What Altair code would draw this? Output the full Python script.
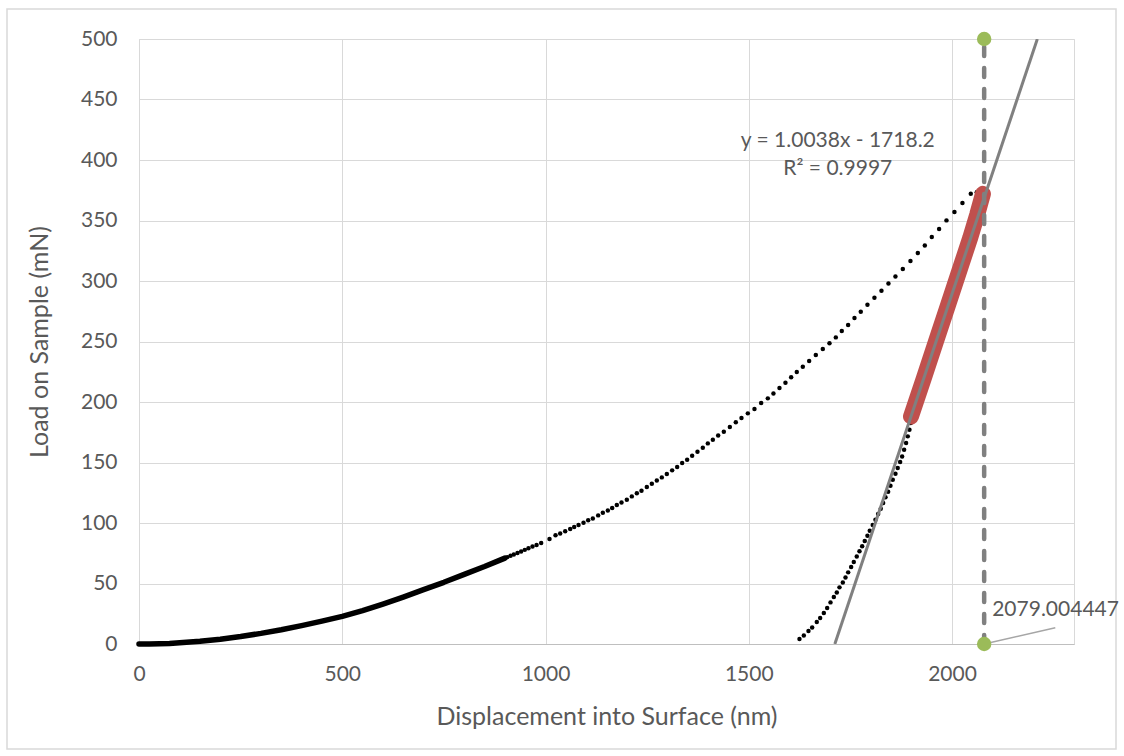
import altair as alt
import pandas as pd

# ---------------- data ----------------
# dense low part of the loading curve (dots merge into a thick line)
load_line_x = [0, 25, 50, 75, 100, 150, 200, 250, 300, 350, 400, 450, 500, 550, 600,
               650, 700, 750, 800, 850, 900]
load_line_y = [0, 0.05, 0.2, 0.5, 1.0, 2.2, 4.0, 6.2, 8.8, 11.8, 15.2, 18.9, 22.8, 27.6, 33.0,
               38.8, 45.0, 51.0, 57.5, 64.0, 71.0]

# separated dots of the loading curve
load_dot_x = [906, 914, 922, 931, 940, 949, 958, 968, 978,
              989.3, 1009.8, 1024.6, 1036.1, 1048.4, 1060.7, 1070.5, 1081.2, 1093.5, 1104.9,
              1116.4, 1129.5, 1141.0, 1153.3, 1164.0, 1175.4, 1186.9, 1200.0, 1212.3, 1224.6,
              1236.1, 1249.2, 1261.5, 1273.8, 1286.1, 1298.4, 1311.5, 1323.8, 1336.1, 1348.4,
              1360.7, 1373.8, 1386.9, 1399.2, 1411.6, 1424.7, 1438.6, 1453.4, 1468.1, 1482.0,
              1497.6, 1514.0, 1530.4, 1546.8, 1560.7, 1575.5, 1590.2, 1604.2, 1618.1, 1632.9,
              1648.5, 1664.9, 1682.1, 1698.5, 1714.1, 1728.8, 1744.4, 1760.0, 1775.5, 1791.9,
              1809.1, 1826.4, 1843.6, 1860.8, 1878.9, 1897.7, 1915.8, 1933.0, 1950.2, 1968.2,
              1986.3, 2005.9, 2025.6, 2046.1, 2060.8, 2072.0]
load_dot_y = [71.8, 72.9, 74.0, 75.2, 76.5, 77.8, 79.1, 80.5, 81.9,
              83.4, 86.8, 89.8, 91.4, 93.1, 95.0, 96.7, 98.3, 100.2, 102.2,
              103.8, 106.3, 108.5, 110.4, 112.4, 114.9, 117.0, 119.3, 122.0, 124.5,
              126.7, 129.7, 132.5, 135.2, 137.7, 140.5, 143.5, 146.3, 149.6, 152.3,
              155.6, 158.9, 162.2, 165.8, 168.8, 172.4, 175.5, 179.3, 183.2, 186.8,
              190.6, 194.2, 199.1, 203.0, 207.1, 211.5, 215.9, 220.4, 224.8, 229.2,
              233.9, 238.8, 243.8, 248.5, 253.4, 258.6, 263.6, 269.4, 274.6, 280.4,
              286.2, 292.0, 298.0, 303.8, 309.9, 316.5, 323.1, 329.4, 336.3, 342.9,
              350.1, 357.0, 364.4, 372.1, 373.3, 373.8]

# unloading curve dots (lower part, not used in the fit)
unload_x = [1624.7, 1635.4, 1646.8, 1655.9, 1667.3, 1675.6, 1684.6, 1692.8, 1701.0, 1709.2,
            1716.5, 1723.1, 1731.3, 1737.9, 1744.5, 1751.8, 1758.3, 1765.6, 1772.3, 1778.9,
            1785.3, 1791.9, 1797.6, 1804.9, 1811.6, 1818.2, 1824.6, 1830.5, 1836.2, 1842.8,
            1848.5, 1854.2, 1860.8, 1866.4, 1872.3, 1877.2, 1882.1, 1887.0, 1891.1, 1895.2,
            1898.4]
unload_y = [4.1, 7.1, 10.7, 13.7, 18.2, 21.5, 25.6, 29.7, 34.4, 38.8,
            42.6, 46.8, 50.9, 55.0, 59.2, 63.6, 67.8, 72.4, 76.6, 80.7,
            85.1, 89.5, 93.6, 98.3, 102.7, 107.4, 111.8, 116.5, 121.2, 125.9,
            130.8, 135.8, 140.7, 145.5, 150.4, 155.0, 160.6, 166.1, 171.6, 177.1,
            182.6]

# upper unloading segment used for the fit (red)
fit_seg_x = [1899, 1930, 1960, 1990, 2020, 2045, 2062, 2076]
fit_seg_y = [188, 219, 249.5, 280, 310.5, 336, 355, 372]

# linear trend line  y = 1.0038x - 1718.2
slope = 1.0038
intercept = -1718.2
trend_y = [0, 500]
trend_x = [(v - intercept) / slope for v in trend_y]

# vertical marker at max displacement
hmax = 2079.004447
marker_y = [0, 500]
hmax_label = "2079.004447"
leader_end = (2254, 13.5)

eq_lines = ["y = 1.0038x - 1718.2", "R\u00b2 = 0.9997"]
eq_x = 1719
eq_y = [411, 388]

x_ticks = [0, 500, 1000, 1500, 2000]
y_ticks = list(range(0, 501, 50))

# ---------------- styling ----------------
FONT = "Lato"
TXT = "#595959"
GRID = "#D9D9D9"
W, H = 935, 605

xs = alt.Scale(domain=[0, 2300], nice=False, zero=False)
ys = alt.Scale(domain=[0, 500], nice=False)

x_axis = alt.Axis(values=x_ticks, format="d", title="Displacement into Surface (nm)", grid=True,
                  ticks=False, tickSize=0, labelPadding=19, titlePadding=20, labelFlush=False,
                  domainColor="#BFBFBF", domainWidth=1.2)
y_axis = alt.Axis(values=y_ticks, format="d", title="Load on Sample (mN)", grid=True,
                  ticks=False, tickSize=0, labelPadding=22, titlePadding=28, labelFlush=False,
                  domain=False)

def X(f="x"):
    return alt.X(f + ":Q", scale=xs, axis=x_axis)

def Y(f="y"):
    return alt.Y(f + ":Q", scale=ys, axis=y_axis)

line_df = pd.DataFrame({"x": load_line_x, "y": load_line_y})
dots_df = pd.DataFrame({"x": load_dot_x + unload_x, "y": load_dot_y + unload_y})
seg_df = pd.DataFrame({"x": fit_seg_x, "y": fit_seg_y})
trend_df = pd.DataFrame({"x": trend_x, "y": trend_y})
vline_df = pd.DataFrame({"x": [hmax], "y": [marker_y[0]], "y2": [marker_y[1]]})
pts_df = pd.DataFrame({"x": [hmax, hmax], "y": marker_y})
lab_df = pd.DataFrame({"x": [hmax], "y": [0], "t": [hmax_label],
                       "x2": [leader_end[0]], "y2": [leader_end[1]]})
eq_df = pd.DataFrame({"x": [eq_x, eq_x], "y": eq_y, "t": eq_lines})

border = alt.Chart(pd.DataFrame({"a": [0]})).mark_rect(
    fillOpacity=0, stroke="#D9D9D9", strokeWidth=1.5
).encode(x=alt.value(-132), x2=alt.value(977), y=alt.value(-30), y2=alt.value(710))

dense = alt.Chart(line_df).mark_line(color="black", strokeWidth=5.5, strokeCap="round",
                                     strokeJoin="round").encode(x=X(), y=Y(), order="x:Q")
dots = alt.Chart(dots_df).mark_circle(color="black", size=20, opacity=1).encode(x=X(), y=Y())
seg = alt.Chart(seg_df).mark_line(color="#C0504D", strokeWidth=16, strokeCap="round",
                                  strokeJoin="round").encode(x=X(), y=Y(), order="x:Q")
trend = alt.Chart(trend_df).mark_line(color="#808080", strokeWidth=3, clip=True).encode(
    x=X(), y=Y())
vline = alt.Chart(vline_df).mark_rule(color="#808080", strokeWidth=4.5, strokeDash=[9, 12],
                                      strokeCap="round").encode(
    x=X(), y=Y(), y2="y2:Q")
leader = alt.Chart(lab_df).mark_rule(color="#A6A6A6", strokeWidth=1.5).encode(
    x=X(), y=Y(), x2="x2:Q", y2="y2:Q")
pts = alt.Chart(pts_df).mark_circle(color="#9BBB59", size=210, opacity=1).encode(x=X(), y=Y())
lab = alt.Chart(lab_df).mark_text(align="left", baseline="alphabetic", dx=8, dy=-28,
                                  font=FONT, fontSize=21, color=TXT).encode(
    x=X(), y=Y(), text="t:N")
eq = alt.Chart(eq_df).mark_text(align="center", baseline="alphabetic",
                                font=FONT, fontSize=21, color=TXT).encode(
    x=X(), y=Y(), text="t:N")

chart = alt.layer(border, dense, dots, seg, trend, vline, leader, pts, lab, eq).properties(
    width=W, height=H,
    autosize=alt.AutoSizeParams(type="none"),
    padding={"left": 139, "top": 39, "right": 50, "bottom": 112},
    background="white",
).configure_view(stroke=GRID, strokeWidth=1).configure_axis(
    labelFont=FONT, titleFont=FONT, labelFontSize=21, titleFontSize=25,
    labelColor=TXT, titleColor=TXT, titleFontWeight="normal",
    gridColor=GRID, gridWidth=1,
)

chart.save("out.html", embed_options={"renderer": "svg", "actions": False})
